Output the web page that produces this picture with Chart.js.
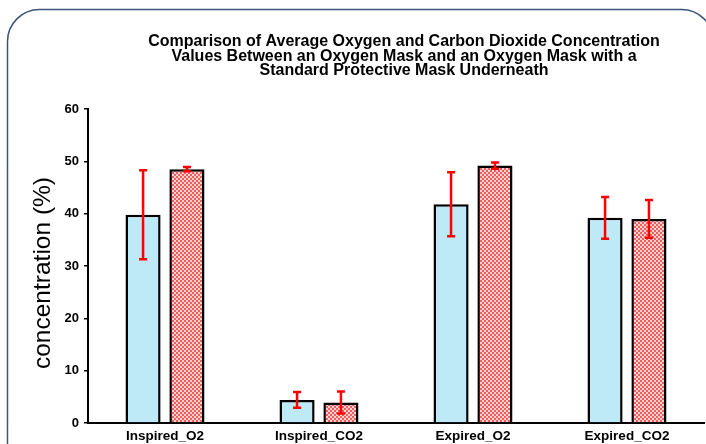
<!DOCTYPE html>
<html>
<head>
<meta charset="utf-8">
<script src="https://cdn.jsdelivr.net/npm/chart.js@4"></script>
<style>
  html, body { margin: 0; padding: 0; background: #fff; }
  #wrap { width: 706px; height: 444px; position: relative; }
</style>
</head>
<body>
<div id="wrap"><canvas id="c" width="706" height="444"></canvas></div>
<script>
// Categories and measured values (mean ± standard deviation, %)
const categories = ['Inspired_O2', 'Inspired_CO2', 'Expired_O2', 'Expired_CO2'];
const oxygenMask = [39.8, 4.4, 41.8, 39.2];
const oxygenMaskSD = [8.5, 1.5, 6.1, 4.0];
const maskWithProtective = [48.5, 3.9, 49.2, 39.0];
const maskWithProtectiveSD = [0.4, 2.1, 0.6, 3.6];
const yTicks = [0, 10, 20, 30, 40, 50, 60];

const titleLines = [
  'Comparison of Average Oxygen and Carbon Dioxide Concentration',
  'Values Between an Oxygen Mask and an Oxygen Mask with a',
  'Standard Protective Mask Underneath'
];
const yTitle = 'concentration (%)';

// Fine red/white checker fill for the second series
function checkerPattern() {
  const p = document.createElement('canvas');
  p.width = 4; p.height = 4;
  const g = p.getContext('2d');
  g.fillStyle = '#ffd2d2';
  g.fillRect(0, 0, 4, 4);
  g.fillStyle = '#f25c5c';
  g.fillRect(0, 0, 2, 2);
  g.fillRect(2, 2, 2, 2);
  return g.createPattern(p, 'repeat');
}
const ctx0 = document.getElementById('c').getContext('2d');

// Rounded frame behind the chart
const framePlugin = {
  id: 'frame',
  beforeDraw(chart) {
    const ctx = chart.ctx;
    ctx.save();
    ctx.fillStyle = '#fff';
    ctx.fillRect(0, 0, chart.width, chart.height);
    ctx.strokeStyle = '#3b5478';
    ctx.lineWidth = 1.5;
    ctx.beginPath();
    ctx.roundRect(7.5, 9.5, 706, 470, 32);
    ctx.stroke();
    ctx.restore();
  }
};

// Multi-line title and rotated y-axis title
const textPlugin = {
  id: 'texts',
  afterDraw(chart) {
    const ctx = chart.ctx;
    ctx.save();
    ctx.fillStyle = '#000';
    ctx.textAlign = 'center';
    ctx.textBaseline = 'middle';
    ctx.font = 'bold 16px "Liberation Sans", Arial, sans-serif';
    const yPos = [42, 57, 71];
    titleLines.forEach((t, i) => ctx.fillText(t, 404, yPos[i]));
    ctx.translate(43, 273);
    ctx.rotate(-Math.PI / 2);
    ctx.font = '24.5px "Liberation Sans", Arial, sans-serif';
    ctx.fillText(yTitle, 0, 0);
    ctx.restore();
  }
};

// Error bars computed through the value scale
const errorBarPlugin = {
  id: 'errorBars',
  afterDatasetsDraw(chart) {
    const ctx = chart.ctx;
    const y = chart.scales.y;
    const sds = [oxygenMaskSD, maskWithProtectiveSD];
    ctx.save();
    ctx.strokeStyle = '#ff0000';
    ctx.lineWidth = 2.5;
    chart.data.datasets.forEach((ds, di) => {
      const meta = chart.getDatasetMeta(di);
      meta.data.forEach((bar, i) => {
        const v = ds.data[i], sd = sds[di][i];
        const yt = y.getPixelForValue(v + sd);
        const yb = y.getPixelForValue(v - sd);
        const x = bar.x;
        ctx.beginPath();
        ctx.moveTo(x, yt); ctx.lineTo(x, yb);
        ctx.moveTo(x - 4, yt); ctx.lineTo(x + 4, yt);
        ctx.moveTo(x - 4, yb); ctx.lineTo(x + 4, yb);
        ctx.stroke();
      });
    });
    ctx.restore();
  }
};

new Chart(ctx0, {
  type: 'bar',
  data: {
    labels: categories,
    datasets: [
      {
        label: 'Oxygen mask',
        data: oxygenMask,
        backgroundColor: '#bee9f7',
        borderColor: '#000',
        borderWidth: 2.5,
        categoryPercentage: 0.57,
        barPercentage: 0.8
      },
      {
        label: 'Oxygen mask with standard protective mask',
        data: maskWithProtective,
        backgroundColor: checkerPattern(),
        borderColor: '#000',
        borderWidth: 2.5,
        categoryPercentage: 0.57,
        barPercentage: 0.8
      }
    ]
  },
  options: {
    responsive: false,
    animation: false,
    devicePixelRatio: 1,
    layout: { padding: { left: 0, right: 2, top: 109, bottom: 0 } },
    plugins: {
      legend: { display: false },
      title: { display: false },
      tooltip: { enabled: false }
    },
    scales: {
      x: {
        grid: { display: false, drawTicks: false },
        border: { color: '#000', width: 2 },
        ticks: {
          color: '#000',
          padding: 5,
          font: { family: '"Liberation Sans", Arial, sans-serif', weight: 'bold', size: 13.5 }
        },
        afterFit(s) { s.height = 21; }
      },
      y: {
        min: 0,
        max: 60,
        afterBuildTicks(s) { s.ticks = yTicks.map(v => ({ value: v })); },
        grid: { drawOnChartArea: false, drawTicks: true, tickLength: 4, color: '#000', lineWidth: 1.5 },
        border: { color: '#000', width: 2 },
        ticks: {
          color: '#000',
          padding: 5,
          font: { family: '"Liberation Sans", Arial, sans-serif', weight: 'bold', size: 13 }
        },
        afterFit(s) { s.width = 88; }
      }
    }
  },
  plugins: [framePlugin, errorBarPlugin, textPlugin]
});
</script>
</body>
</html>
